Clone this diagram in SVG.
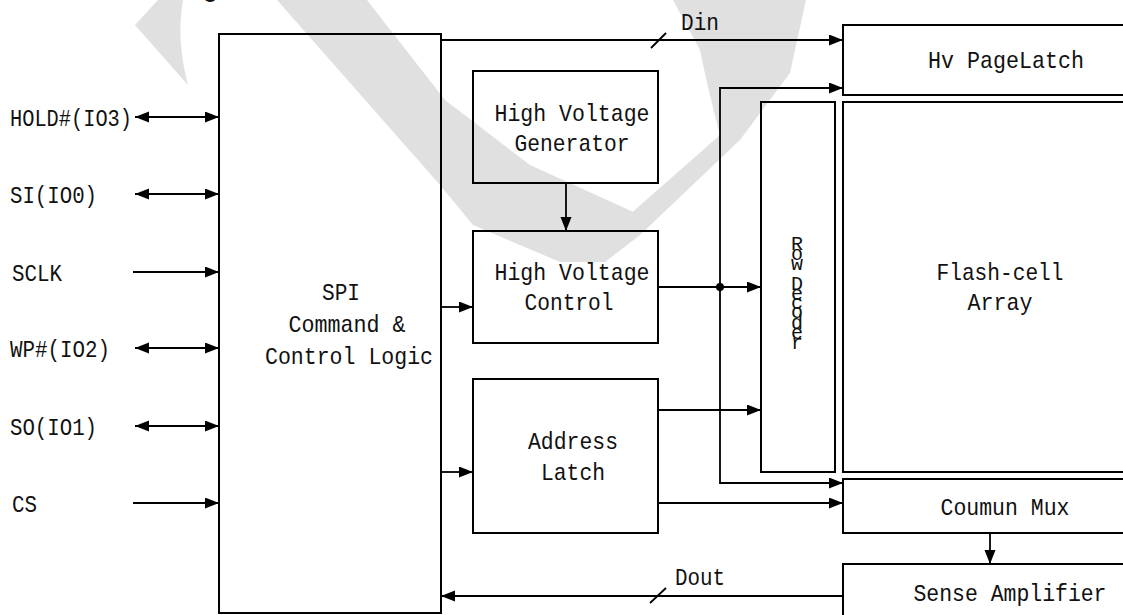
<svg xmlns="http://www.w3.org/2000/svg" width="1123" height="615" viewBox="0 0 1123 615">
<style>
.box{fill:none;stroke:#000;stroke-width:2}
.ln{fill:none;stroke:#000;stroke-width:1.8}
.t{font-family:"Liberation Mono","DejaVu Sans Mono",monospace;font-size:24px;fill:#111}
.m{text-anchor:middle}
.rd{font-size:20px}
.wm{fill:#e0e0e0;stroke:none}
</style>
<defs>
<marker id="ah" markerUnits="userSpaceOnUse" markerWidth="15" markerHeight="12" refX="14" refY="5.5" orient="auto-start-reverse">
<path d="M0,0 L14,5.5 L0,11 Z" fill="#000"/>
</marker>
</defs>
<rect width="1123" height="615" fill="#fff"/>
<g id="watermark">
<path class="wm" d="M135,25 L158,0 L183,0 Q176,40 188,85 Z"/>
<path class="wm" d="M277,0 L367,0 L445,100 L530,165 L640,215 L605,262 L560,262 L473,225 L440,185 Z"/>
<path class="wm" d="M673,0 L806,0 L790,73 L740,140 L640,235 L605,262 L595,245 L720,135 Q708,90 700,50 Z"/>
</g>
<text class="t" x="203" y="-3" style="font-weight:bold">g</text>
<g id="connectors">
<path class="ln" d="M135,117 H219" marker-start="url(#ah)" marker-end="url(#ah)"/>
<path class="ln" d="M135,194 H219" marker-start="url(#ah)" marker-end="url(#ah)"/>
<path class="ln" d="M133,272 H219" marker-end="url(#ah)"/>
<path class="ln" d="M135,348 H219" marker-start="url(#ah)" marker-end="url(#ah)"/>
<path class="ln" d="M135,426 H219" marker-start="url(#ah)" marker-end="url(#ah)"/>
<path class="ln" d="M133,503 H219" marker-end="url(#ah)"/>
<path class="ln" d="M441,40 H843" marker-end="url(#ah)"/>
<path class="ln" d="M651,48 L666,33"/>
<path class="ln" d="M566,183 V231" marker-end="url(#ah)"/>
<path class="ln" d="M441,307 H473" marker-end="url(#ah)"/>
<path class="ln" d="M441,472 H473" marker-end="url(#ah)"/>
<path class="ln" d="M658,287 H761" marker-end="url(#ah)"/>
<circle cx="720" cy="287" r="4" fill="#000"/>
<path class="ln" d="M720,287 V88 H843" marker-end="url(#ah)"/>
<path class="ln" d="M720,287 V483 H843" marker-end="url(#ah)"/>
<path class="ln" d="M658,410 H761" marker-end="url(#ah)"/>
<path class="ln" d="M658,503 H843" marker-end="url(#ah)"/>
<path class="ln" d="M990,533 V564" marker-end="url(#ah)"/>
<path class="ln" d="M843,596 H441" marker-end="url(#ah)"/>
<path class="ln" d="M650,603 L666,588"/>
<text class="t" x="681" y="30" textLength="38" lengthAdjust="spacingAndGlyphs">Din</text>
<text class="t" x="675" y="585" textLength="50" lengthAdjust="spacingAndGlyphs">Dout</text>
</g>
<g id="pins">
<text class="t" x="10" y="126" textLength="122" lengthAdjust="spacingAndGlyphs">HOLD#(IO3)</text>
<text class="t" x="10" y="203" textLength="87" lengthAdjust="spacingAndGlyphs">SI(IO0)</text>
<text class="t" x="12" y="281" textLength="50" lengthAdjust="spacingAndGlyphs">SCLK</text>
<text class="t" x="10" y="357" textLength="100" lengthAdjust="spacingAndGlyphs">WP#(IO2)</text>
<text class="t" x="10" y="435" textLength="87" lengthAdjust="spacingAndGlyphs">SO(IO1)</text>
<text class="t" x="12" y="512" textLength="25" lengthAdjust="spacingAndGlyphs">CS</text>
</g>
<g id="spi">
<rect class="box" x="219" y="34" width="222" height="579"/>
<text class="t m" x="341" y="300" textLength="38" lengthAdjust="spacingAndGlyphs">SPI</text>
<text class="t m" x="347" y="332" textLength="117" lengthAdjust="spacingAndGlyphs">Command &amp;</text>
<text class="t m" x="349" y="364" textLength="168" lengthAdjust="spacingAndGlyphs">Control Logic</text>
</g>
<g id="hvgen">
<rect class="box" x="473" y="71" width="185" height="112"/>
<text class="t m" x="572" y="121" textLength="155" lengthAdjust="spacingAndGlyphs">High Voltage</text>
<text class="t m" x="572" y="151" textLength="115" lengthAdjust="spacingAndGlyphs">Generator</text>
</g>
<g id="hvctrl">
<rect class="box" x="473" y="231" width="185" height="112"/>
<text class="t m" x="572" y="280" textLength="155" lengthAdjust="spacingAndGlyphs">High Voltage</text>
<text class="t m" x="569" y="310" textLength="89" lengthAdjust="spacingAndGlyphs">Control</text>
</g>
<g id="addr">
<rect class="box" x="473" y="379" width="185" height="154"/>
<text class="t m" x="573" y="449" textLength="90" lengthAdjust="spacingAndGlyphs">Address</text>
<text class="t m" x="573" y="480" textLength="64" lengthAdjust="spacingAndGlyphs">Latch</text>
</g>
<g id="pagelatch">
<rect class="box" x="843" y="25" width="290" height="70"/>
<text class="t m" x="1006" y="68" textLength="156" lengthAdjust="spacingAndGlyphs">Hv PageLatch</text>
</g>
<g id="rowdec">
<rect class="box" x="761" y="102" width="74" height="370"/>
<text class="t m rd" x="797 797 797 797 797 797 797 797 797 797" y="250 260 270 290 300 309 318 329 339 349">RowDecoder</text>
</g>
<g id="flash">
<rect class="box" x="843" y="102" width="290" height="370"/>
<text class="t m" x="1000" y="280" textLength="127" lengthAdjust="spacingAndGlyphs">Flash-cell</text>
<text class="t m" x="1000" y="310" textLength="65" lengthAdjust="spacingAndGlyphs">Array</text>
</g>
<g id="mux">
<rect class="box" x="843" y="479" width="290" height="54"/>
<text class="t m" x="1005" y="515" textLength="129" lengthAdjust="spacingAndGlyphs">Coumun Mux</text>
</g>
<g id="sense">
<rect class="box" x="843" y="564" width="290" height="70"/>
<text class="t m" x="1010" y="601" textLength="193" lengthAdjust="spacingAndGlyphs">Sense Amplifier</text>
</g>
</svg>
